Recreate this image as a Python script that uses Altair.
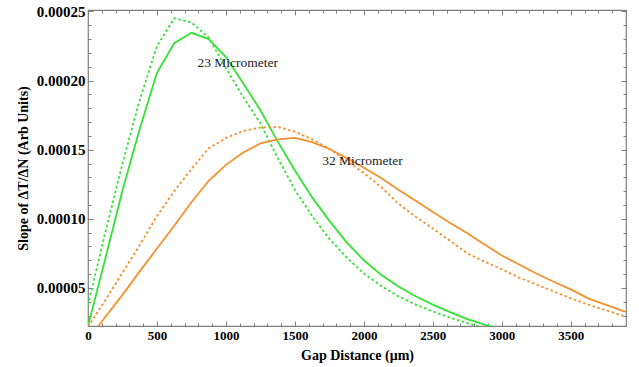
import altair as alt
import pandas as pd

# ---- data ----
x_green = [0, 125, 250, 375, 500, 625, 750, 875, 1000, 1125, 1250, 1375, 1500,
           1625, 1750, 1875, 2000, 2125, 2250, 2375, 2500, 2625, 2750, 2875, 3000]
green_solid = [2.25e-5, 7.1e-5, 12.05e-5, 16.5e-5, 20.56e-5, 22.7e-5, 23.45e-5, 23.0e-5,
               21.7e-5, 19.8e-5, 17.85e-5, 15.6e-5, 13.5e-5, 11.55e-5, 9.85e-5, 8.3e-5,
               7.0e-5, 5.95e-5, 5.1e-5, 4.4e-5, 3.8e-5, 3.25e-5, 2.75e-5, 2.35e-5, 2.0e-5]
green_dashed = [3.77e-5, 9.0e-5, 14.0e-5, 18.6e-5, 22.5e-5, 24.5e-5, 24.2e-5, 23.1e-5,
                20.9e-5, 18.8e-5, 16.9e-5, 14.4e-5, 12.1e-5, 10.2e-5, 8.55e-5, 7.2e-5,
                6.05e-5, 5.15e-5, 4.4e-5, 3.8e-5, 3.3e-5, 2.85e-5, 2.45e-5, 2.1e-5, 1.8e-5]

x_orange = [0, 125, 250, 375, 500, 625, 750, 875, 1000, 1125, 1250, 1375, 1500,
            1625, 1750, 1875, 2000, 2125, 2250, 2375, 2500, 2625, 2750, 2875, 3000,
            3125, 3250, 3375, 3500, 3625, 3750, 3875, 3900]
orange_solid = [1.25e-5, 2.9e-5, 4.5e-5, 6.2e-5, 7.85e-5, 9.5e-5, 11.2e-5, 12.75e-5,
                13.9e-5, 14.8e-5, 15.45e-5, 15.75e-5, 15.85e-5, 15.55e-5, 15.05e-5, 14.4e-5,
                13.7e-5, 12.95e-5, 12.1e-5, 11.3e-5, 10.5e-5, 9.7e-5, 8.95e-5, 8.15e-5,
                7.35e-5, 6.7e-5, 6.05e-5, 5.45e-5, 4.9e-5, 4.25e-5, 3.8e-5, 3.35e-5, 3.28e-5]
orange_dashed = [2.2e-5, 4.1e-5, 6.1e-5, 8.1e-5, 10.2e-5, 12.0e-5, 13.6e-5, 15.1e-5,
                 15.85e-5, 16.35e-5, 16.6e-5, 16.65e-5, 16.3e-5, 15.75e-5, 15.05e-5, 14.2e-5,
                 13.3e-5, 12.3e-5, 11.1e-5, 10.15e-5, 9.3e-5, 8.4e-5, 7.5e-5, 6.9e-5,
                 6.35e-5, 5.75e-5, 5.25e-5, 4.75e-5, 4.25e-5, 3.8e-5, 3.4e-5, 3.0e-5, 2.95e-5]

label_text = ["23 Micrometer", "32 Micrometer"]
label_x = [1085, 1990]
label_y = [21.28e-5, 14.2e-5]

x_major_ticks = [0, 500, 1000, 1500, 2000, 2500, 3000, 3500]
x_minor_ticks = [v for v in range(0, 3901, 100)]
y_major_ticks = [0.00005, 0.0001, 0.00015, 0.0002, 0.00025]
y_minor_ticks = [k * 1e-5 for k in range(3, 26)]

x_domain = [0, 3900]
y_domain = [0.0000225, 0.000251]

# ---- build table ----
rows = []
for xs, ys, name in [(x_green, green_solid, "gs"), (x_green, green_dashed, "gd"),
                     (x_orange, orange_solid, "os"), (x_orange, orange_dashed, "od")]:
    for a, b in zip(xs, ys):
        rows.append({"x": a, "y": b, "series": name})
df = pd.DataFrame(rows)
labels_df = pd.DataFrame({"x": label_x, "y": label_y, "text": label_text})

GREEN = "#33e233"
ORANGE = "#f5902f"
FRAME = "#7f7f7f"
SERIF = "Liberation Serif"

xscale = alt.Scale(domain=x_domain, nice=False, zero=False)
yscale = alt.Scale(domain=y_domain, nice=False, zero=False)


def ax(orient, values, size, labels, **kw):
    return alt.Axis(orient=orient, values=values, offset=-size, tickSize=size,
                    domain=False, grid=False, labels=labels, tickColor=FRAME,
                    tickWidth=1, **kw)


x_axes = [
    ax("bottom", x_major_ticks, 5, True, format="d", labelFont=SERIF, labelFontSize=13,
       labelFontWeight="bold", labelColor="black", labelPadding=3, labelFlush=False,
       title="Gap Distance (μm)", titleFont=SERIF, titleFontSize=14,
       titleFontWeight="bold", titleColor="black", titlePadding=6),
    ax("bottom", x_minor_ticks, 3, False, title=None),
    ax("top", x_major_ticks, 5, False, title=None),
    ax("top", x_minor_ticks, 3, False, title=None),
]
y_axes = [
    ax("left", y_major_ticks, 5, True, format=".5f", labelFont=SERIF, labelFontSize=15,
       labelFontWeight="bold", labelColor="black", labelPadding=3, labelFlush=False,
       title="Slope of ΔT/ΔN (Arb Units)", titleFont=SERIF, titleFontSize=14,
       titleFontWeight="bold", titleColor="black", titlePadding=6),
    ax("left", y_minor_ticks, 3, False, title=None),
    ax("right", y_major_ticks, 5, False, title=None),
    ax("right", y_minor_ticks, 3, False, title=None),
]

specs = [("gs", GREEN, None), ("gd", GREEN, [2.5, 2.5]),
         ("os", ORANGE, None), ("od", ORANGE, [2.5, 2.5])]

layers = []
for i, (name, color, dash) in enumerate(specs):
    mk = dict(color=color, strokeWidth=1.8, clip=True)
    if dash is not None:
        mk["strokeDash"] = dash
    layers.append(
        alt.Chart(df).transform_filter(alt.datum.series == name)
        .mark_line(**mk)
        .encode(x=alt.X("x:Q", scale=xscale, axis=x_axes[i]),
                y=alt.Y("y:Q", scale=yscale, axis=y_axes[i]))
    )

text_layer = alt.Chart(labels_df).mark_text(
    font=SERIF, fontSize=13.5, color="#222222", align="center", baseline="middle"
).encode(x=alt.X("x:Q", scale=xscale, axis=None),
         y=alt.Y("y:Q", scale=yscale, axis=None),
         text="text:N")
layers.append(text_layer)

chart = (
    alt.layer(*layers)
    .resolve_axis(x="independent", y="independent")
    .properties(width=538, height=316,
                autosize=alt.AutoSizeParams(type="none"),
                padding={"left": 88, "top": 10, "right": 13, "bottom": 41},
                background="white")
    .configure_view(stroke=FRAME, strokeWidth=1.2)
)

chart.save("out.html", embed_options={"renderer": "svg", "actions": False})
